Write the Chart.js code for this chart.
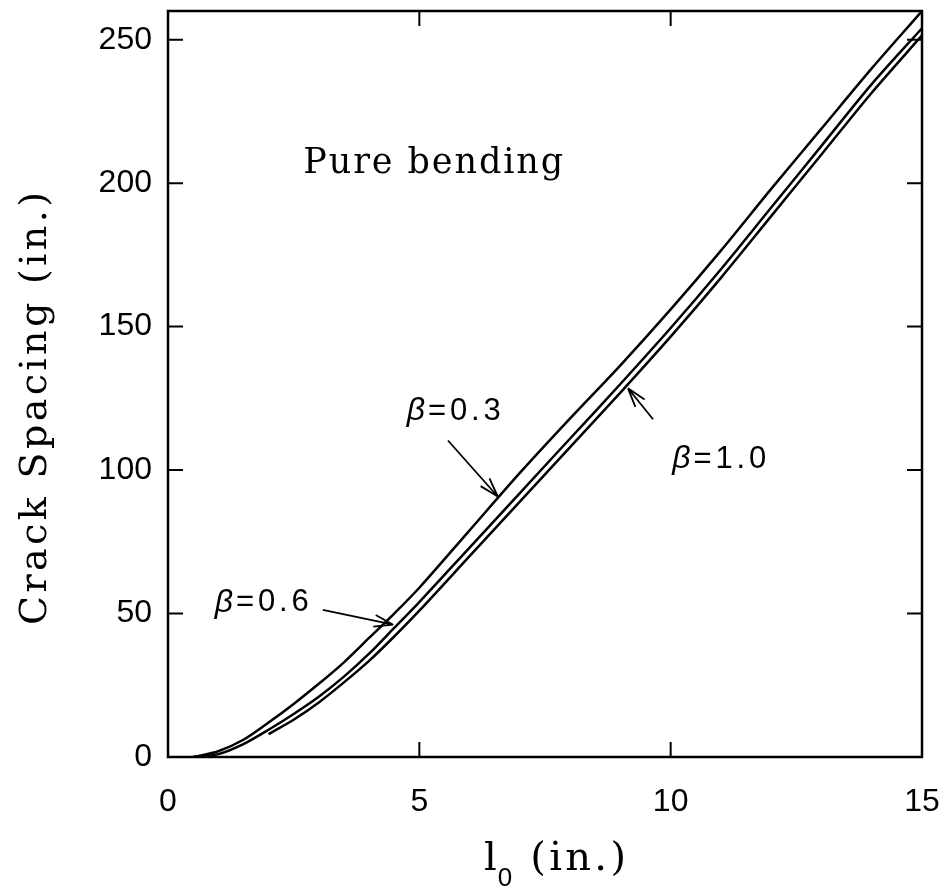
<!DOCTYPE html>
<html>
<head>
<meta charset="utf-8">
<script src="https://cdn.jsdelivr.net/npm/chart.js@4.4.1/dist/chart.umd.min.js"></script>
<style>
  html, body { margin: 0; padding: 0; background: #fff; }
  #wrap { width: 948px; height: 891px; }
</style>
</head>
<body>
<div id="wrap"><canvas id="myChart" width="948" height="891"></canvas></div>
<script>
// l0 values (in.) and crack spacing (in.)
const xVals = [0.5, 1, 1.5, 2, 2.5, 3, 3.5, 4, 4.5, 5, 6, 7, 8, 9, 10, 11, 12, 13, 14, 15];
const beta03 = [0, 2, 6, 12, 18.5, 25.5, 33, 41.5, 50, 59, 79, 99, 118, 136.5, 156, 176.5, 198, 219, 240, 260];
const beta06 = [0, 1, 4.5, 9.5, 15, 21, 28, 36, 45, 54, 73, 92, 111, 130, 149.5, 170, 191.5, 213, 234.5, 254];
const xVals10 = [2, 2.5, 3, 3.5, 4, 4.5, 5, 6, 7, 8, 9, 10, 11, 12, 13, 14, 15];
const beta10 = [8, 13, 19, 26, 33.5, 42, 51, 70, 89, 108, 127, 146.5, 167, 188.5, 210, 231.5, 251.5];

const xTicks = [0, 5, 10, 15];
const yTicks = [0, 50, 100, 150, 200, 250];

// labels and arrows, in data units
const labels = [
  { text: 'β', rest: '=0.3', x: 4.75, y: 120.5 },
  { text: 'β', rest: '=1.0', x: 10.03, y: 103.7 },
  { text: 'β', rest: '=0.6', x: 0.93, y: 53.8 }
];
const arrows = [
  { from: [5.57, 110.3], to: [6.56, 90.8] },
  { from: [3.08, 51.3], to: [4.48, 46.1] },
  { from: [9.65, 117.7], to: [9.15, 128.5] }
];

function pts(xs, ys) {
  return xs.map((x, i) => ({ x: x, y: ys[i] }));
}

const lineStyle = {
  borderColor: '#000',
  borderWidth: 2.5,
  pointRadius: 0,
  fill: false,
  tension: 0.3
};

const SERIF = '"DejaVu Serif", serif';
const SANS = '"Liberation Sans", Arial, sans-serif';

// draw text stretched by letter spacing to a given width
function fitText(ctx, text, x, y, width) {
  ctx.letterSpacing = '0px';
  const w = ctx.measureText(text).width;
  const sp = (width - w) / Math.max(text.length - 1, 1);
  ctx.letterSpacing = sp.toFixed(2) + 'px';
  ctx.fillText(text, x, y);
  ctx.letterSpacing = '0px';
}

const decor = {
  id: 'decor',
  afterDatasetsDraw(chart) {
    const ctx = chart.ctx;
    const a = chart.chartArea;
    const xs = chart.scales.x, ys = chart.scales.y;
    ctx.save();
    ctx.strokeStyle = '#000';
    ctx.fillStyle = '#000';

    // frame
    ctx.lineWidth = 2.5;
    ctx.strokeRect(a.left, a.top, a.right - a.left, a.bottom - a.top);

    // inward ticks on all four sides
    ctx.lineWidth = 2;
    const tl = 15;
    xTicks.forEach(v => {
      const px = xs.getPixelForValue(v);
      if (px <= a.left + 1 || px >= a.right - 1) return;
      ctx.beginPath();
      ctx.moveTo(px, a.bottom); ctx.lineTo(px, a.bottom - tl);
      ctx.moveTo(px, a.top); ctx.lineTo(px, a.top + tl);
      ctx.stroke();
    });
    yTicks.forEach(v => {
      const py = ys.getPixelForValue(v);
      if (py >= a.bottom - 1 || py <= a.top + 1) return;
      ctx.beginPath();
      ctx.moveTo(a.left, py); ctx.lineTo(a.left + tl, py);
      ctx.moveTo(a.right, py); ctx.lineTo(a.right - tl, py);
      ctx.stroke();
    });

    // text inside plot
    ctx.textBaseline = 'middle';
    ctx.textAlign = 'left';
    ctx.font = '35px ' + SERIF;
    fitText(ctx, 'Pure bending', xs.getPixelForValue(2.69), ys.getPixelForValue(206.7), 260);

    labels.forEach(l => {
      const px = xs.getPixelForValue(l.x), py = ys.getPixelForValue(l.y);
      ctx.font = 'italic 32px ' + SANS;
      ctx.fillText(l.text, px, py);
      const w = ctx.measureText(l.text).width;
      ctx.font = '31px ' + SANS;
      fitText(ctx, l.rest, px + w + 3, py, 96 - w - 3 - 2);
    });

    // arrows with open heads
    ctx.lineWidth = 1.8;
    arrows.forEach(ar => {
      const x1 = xs.getPixelForValue(ar.from[0]), y1 = ys.getPixelForValue(ar.from[1]);
      const x2 = xs.getPixelForValue(ar.to[0]), y2 = ys.getPixelForValue(ar.to[1]);
      const ang = Math.atan2(y2 - y1, x2 - x1);
      const hl = 20, spread = 0.3;
      ctx.beginPath();
      ctx.moveTo(x1, y1); ctx.lineTo(x2, y2);
      ctx.moveTo(x2, y2);
      ctx.lineTo(x2 - hl * Math.cos(ang - spread), y2 - hl * Math.sin(ang - spread));
      ctx.moveTo(x2, y2);
      ctx.lineTo(x2 - hl * Math.cos(ang + spread), y2 - hl * Math.sin(ang + spread));
      ctx.stroke();
    });

    // axis titles
    ctx.font = '38px ' + SERIF;
    ctx.textAlign = 'left';
    ctx.save();
    ctx.translate(36, 625);
    ctx.rotate(-Math.PI / 2);
    fitText(ctx, 'Crack Spacing (in.)', 0, 0, 433);
    ctx.restore();

    ctx.textBaseline = 'alphabetic';
    let tx = 484, ty = 870;
    ctx.font = '40px ' + SERIF;
    ctx.fillText('l', tx, ty);
    tx += ctx.measureText('l').width + 1;
    ctx.font = '26px ' + SANS;
    ctx.fillText('0', tx, ty + 16);
    tx += ctx.measureText('0').width + 18;
    ctx.font = '40px ' + SERIF;
    fitText(ctx, '(in.)', tx, ty, 626 - tx);

    ctx.restore();
  }
};

new Chart(document.getElementById('myChart'), {
  type: 'line',
  data: {
    datasets: [
      Object.assign({ label: 'β=0.3', data: pts(xVals, beta03) }, lineStyle),
      Object.assign({ label: 'β=0.6', data: pts(xVals, beta06) }, lineStyle),
      Object.assign({ label: 'β=1.0', data: pts(xVals10, beta10) }, lineStyle)
    ]
  },
  options: {
    responsive: false,
    animation: false,
    layout: { padding: { left: 0, right: 26, top: 11, bottom: 0 } },
    plugins: {
      legend: { display: false },
      tooltip: { enabled: false }
    },
    scales: {
      x: {
        type: 'linear',
        min: 0,
        max: 15,
        afterBuildTicks: axis => { axis.ticks = xTicks.map(v => ({ value: v })); },
        afterFit: axis => { axis.height = 134; axis.paddingLeft = 0; axis.paddingRight = 0; },
        grid: { display: false, drawTicks: false },
        border: { display: false },
        ticks: { color: '#000', font: { family: SANS, size: 32 }, padding: 26, maxRotation: 0 }
      },
      y: {
        type: 'linear',
        min: 0,
        max: 260,
        afterBuildTicks: axis => { axis.ticks = yTicks.map(v => ({ value: v })); },
        afterFit: axis => { axis.width = 168; axis.paddingTop = 0; axis.paddingBottom = 0; },
        grid: { display: false, drawTicks: false },
        border: { display: false },
        ticks: { color: '#000', font: { family: SANS, size: 32 }, padding: 16 }
      }
    }
  },
  plugins: [decor]
});
</script>
</body>
</html>
